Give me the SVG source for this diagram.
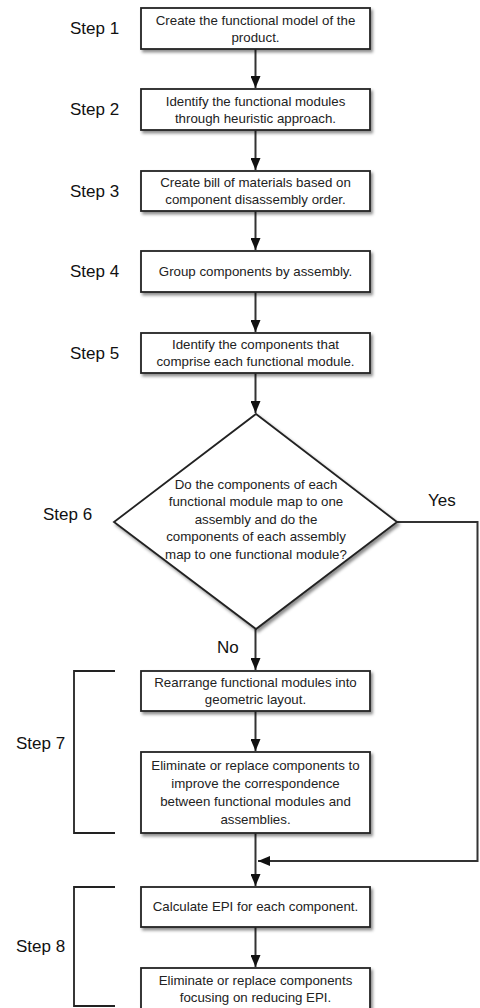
<svg xmlns="http://www.w3.org/2000/svg" width="480" height="1008" viewBox="0 0 480 1008">
<style>
.box{fill:#fff;stroke:#222;stroke-width:1.8;filter:url(#sh)}
.t{font-family:"Liberation Sans",Arial,sans-serif;font-size:13.3px;fill:#222;text-anchor:middle}
.s{font-family:"Liberation Sans",Arial,sans-serif;font-size:17px;fill:#111}
.c{fill:none;stroke:#333;stroke-width:2}
.br{fill:none;stroke:#222;stroke-width:1.8}
</style>
<defs>
<filter id="sh" x="-10%" y="-10%" width="130%" height="140%">
<feDropShadow dx="2" dy="2.5" stdDeviation="1.5" flood-color="#000" flood-opacity="0.45"/>
</filter>
<marker id="ah" viewBox="0 0 12 10" refX="12" refY="5" markerWidth="12" markerHeight="10" markerUnits="userSpaceOnUse" orient="auto">
<path d="M0,0 L12,5 L0,10 z" fill="#111"/>
</marker>
</defs>
<rect width="480" height="1008" fill="#fff"/>

<g id="connectors">
<line class="c" x1="255.5" y1="49" x2="255.5" y2="88" marker-end="url(#ah)"/>
<line class="c" x1="255.5" y1="130" x2="255.5" y2="170" marker-end="url(#ah)"/>
<line class="c" x1="255.5" y1="211" x2="255.5" y2="250" marker-end="url(#ah)"/>
<line class="c" x1="255.5" y1="292" x2="255.5" y2="332" marker-end="url(#ah)"/>
<line class="c" x1="255.5" y1="373" x2="255.5" y2="413" marker-end="url(#ah)"/>
<line class="c" x1="255.5" y1="629" x2="255.5" y2="670" marker-end="url(#ah)"/>
<line class="c" x1="255.5" y1="711" x2="255.5" y2="751" marker-end="url(#ah)"/>
<line class="c" x1="255.5" y1="833" x2="255.5" y2="886" marker-end="url(#ah)"/>
<line class="c" x1="255.5" y1="927" x2="255.5" y2="967" marker-end="url(#ah)"/>
<polyline class="c" points="397,522 477.5,522 477.5,861 258,861" marker-end="url(#ah)"/>
<text class="s" x="428" y="506">Yes</text>
<text class="s" x="217" y="653">No</text>
</g>

<g id="step1">
<text class="s" x="70" y="34">Step 1</text>
<rect class="box" x="141" y="8" width="229" height="41"/>
<text class="t" x="255.5" y="24.5">Create the functional model of the<tspan x="255.5" dy="17">product.</tspan></text>
</g>
<g id="step2">
<text class="s" x="70" y="115">Step 2</text>
<rect class="box" x="141" y="89" width="229" height="41"/>
<text class="t" x="255.5" y="105.5">Identify the functional modules<tspan x="255.5" dy="17">through heuristic approach.</tspan></text>
</g>
<g id="step3">
<text class="s" x="70" y="197">Step 3</text>
<rect class="box" x="141" y="171" width="229" height="40"/>
<text class="t" x="255.5" y="187">Create bill of materials based on<tspan x="255.5" dy="17">component disassembly order.</tspan></text>
</g>
<g id="step4">
<text class="s" x="70" y="277">Step 4</text>
<rect class="box" x="141" y="251" width="229" height="41"/>
<text class="t" x="255.5" y="276">Group components by assembly.</text>
</g>
<g id="step5">
<text class="s" x="70" y="359">Step 5</text>
<rect class="box" x="141" y="333" width="229" height="40"/>
<text class="t" x="255.5" y="349">Identify the components that<tspan x="255.5" dy="17">comprise each functional module.</tspan></text>
</g>
<g id="step6">
<text class="s" x="43" y="520">Step 6</text>
<polygon class="box" points="256,414 397,522 256,629 114,522"/>
<text class="t" x="256" y="488.5">Do the components of each<tspan x="256" dy="17.5">functional module map to one</tspan><tspan x="256" dy="17.5">assembly and do the</tspan><tspan x="256" dy="17.5">components of each assembly</tspan><tspan x="256" dy="17.5">map to one functional module?</tspan></text>
</g>
<g id="step7">
<text class="s" x="16" y="749">Step 7</text>
<path class="br" d="M115,671 H74 V833 H115"/>
<rect class="box" x="141" y="671" width="229" height="40"/>
<text class="t" x="255.5" y="687">Rearrange functional modules into<tspan x="255.5" dy="17">geometric layout.</tspan></text>
<rect class="box" x="141" y="752" width="229" height="81"/>
<text class="t" x="255.5" y="770">Eliminate or replace components to<tspan x="255.5" dy="18">improve the correspondence</tspan><tspan x="255.5" dy="18">between functional modules and</tspan><tspan x="255.5" dy="18">assemblies.</tspan></text>
</g>
<g id="step8">
<text class="s" x="16" y="952">Step 8</text>
<path class="br" d="M115,887 H74 V1006 H115"/>
<rect class="box" x="141" y="887" width="229" height="40"/>
<text class="t" x="255.5" y="911">Calculate EPI for each component.</text>
<rect class="box" x="141" y="968" width="229" height="48"/>
<text class="t" x="255.5" y="985">Eliminate or replace components<tspan x="255.5" dy="17">focusing on reducing EPI.</tspan></text>
</g>
</svg>
